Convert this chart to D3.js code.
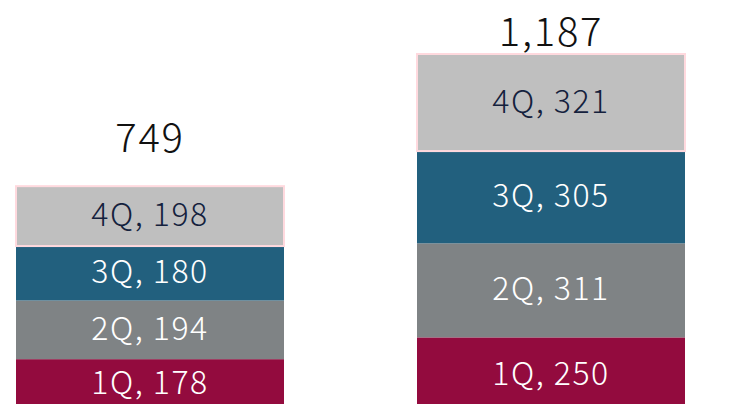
<!DOCTYPE html>
<html>
<head>
<meta charset="utf-8">
<script src="https://cdn.jsdelivr.net/npm/d3@7"></script>
<style>
html,body{margin:0;padding:0;background:#fff;overflow:hidden;}
</style>
</head>
<body>
<svg id="chart" width="730" height="404"></svg>
<script>
const groups = ["A", "B"];
const quarters = ["1Q", "2Q", "3Q", "4Q"];
const q1 = [178, 250];
const q2 = [194, 311];
const q3 = [180, 305];
const q4 = [198, 321];
const totalLabels = ["749", "1,187"];

const colors = {"1Q": "#930b3e", "2Q": "#7f8385", "3Q": "#22607e", "4Q": "#bfbfbf"};
const textColors = {"1Q": "#ffffff", "2Q": "#ffffff", "3Q": "#ffffff", "4Q": "#14213d"};
const totalGap = [34, 8];

const data = groups.map((g, i) => ({group: g, "1Q": q1[i], "2Q": q2[i], "3Q": q3[i], "4Q": q4[i]}));
const stacked = d3.stack().keys(quarters)(data);

const svg = d3.select("#chart");
const xs = d3.scalePoint().domain(groups).range([16, 417]);
const barW = 268;
const y = d3.scaleLinear().domain([0, 1187]).range([413, 54]);

const font = "'Noto Sans CJK JP', 'Noto Sans', sans-serif";

stacked.forEach(layer => {
  const key = layer.key;
  const g = svg.append("g");
  g.selectAll("rect").data(layer).join("rect")
    .attr("x", (d, i) => xs(groups[i]))
    .attr("width", barW)
    .attr("y", d => y(d[1]))
    .attr("height", d => y(d[0]) - y(d[1]))
    .attr("fill", colors[key])
    .attr("stroke", key === "4Q" ? "#ffd9de" : "none")
    .attr("stroke-width", key === "4Q" ? 2 : 0);
  g.selectAll("text").data(layer).join("text")
    .attr("x", (d, i) => xs(groups[i]) + barW / 2)
    .attr("y", d => Math.min((y(d[0]) + y(d[1])) / 2, 384) + 10)
    .attr("text-anchor", "middle")
    .attr("font-family", font)
    .attr("font-weight", 300)
    .attr("font-size", 32)
    .attr("letter-spacing", 1.5)
    .attr("fill", textColors[key])
    .text(d => `${key}, ${d.data[key]}`);
});

const topLayer = stacked[stacked.length - 1];
svg.append("g").selectAll("text").data(topLayer).join("text")
  .attr("x", (d, i) => xs(groups[i]) + barW / 2)
  .attr("y", (d, i) => y(d[1]) - totalGap[i])
  .attr("text-anchor", "middle")
  .attr("font-family", font)
  .attr("font-weight", 300)
  .attr("font-size", 40)
  .attr("letter-spacing", 1.8)
  .attr("fill", "#111")
  .text((d, i) => totalLabels[i]);
</script>
</body>
</html>
